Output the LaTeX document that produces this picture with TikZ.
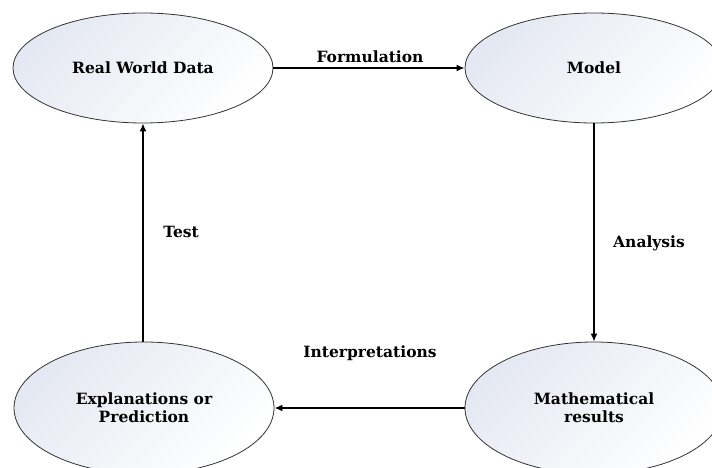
\documentclass[tikz,border=0pt]{standalone}
\usepackage{fontspec}
\setmainfont{DejaVu Serif}
\usetikzlibrary{shapes.geometric,arrows.meta}
\definecolor{fillA}{HTML}{E4E8F2}
\definecolor{edge}{HTML}{333333}
\tikzset{
  blob/.style={ellipse, draw=edge, line width=0.8pt, top color=fillA, bottom color=white, shading angle=45,
    inner sep=0pt, align=center, font=\fontsize{15.5}{18}\selectfont\bfseries},
  lbl/.style={font=\fontsize{15.5}{18}\selectfont\bfseries, inner sep=0pt},
  flow/.style={line width=1.8pt, -{Latex[length=8pt,width=7pt]}}
}
\begin{document}
\begin{tikzpicture}[x=1pt,y=-1pt]
\useasboundingbox (0,0) rectangle (712,468);
\clip (0,0) rectangle (712,468);
\node[blob, minimum width=260pt, minimum height=110pt] (rwd) at (143,68) {Real World Data};
\node[blob, minimum width=258pt, minimum height=110pt] (model) at (594,68) {Model};
\node[blob, minimum width=260pt, minimum height=132pt] (expl) at (144,408) {Explanations or\\Prediction};
\node[blob, minimum width=258pt, minimum height=132pt] (math) at (594,408) {Mathematical\\results};
\draw[flow] (rwd.east) -- (model.west);
\draw[flow] (model.south) -- (math.north);
\draw[flow] (math.west) -- (expl.east);
\draw[flow] (expl.north -| rwd.south) -- (rwd.south);
\node[lbl] (lf) at (370,57) {Formulation};
\node[lbl] (la) at (649,243) {Analysis};
\node[lbl] (li) at (370,353) {Interpretations};
\node[lbl] (lt) at (181,232) {Test};
\end{tikzpicture}
\end{document}
